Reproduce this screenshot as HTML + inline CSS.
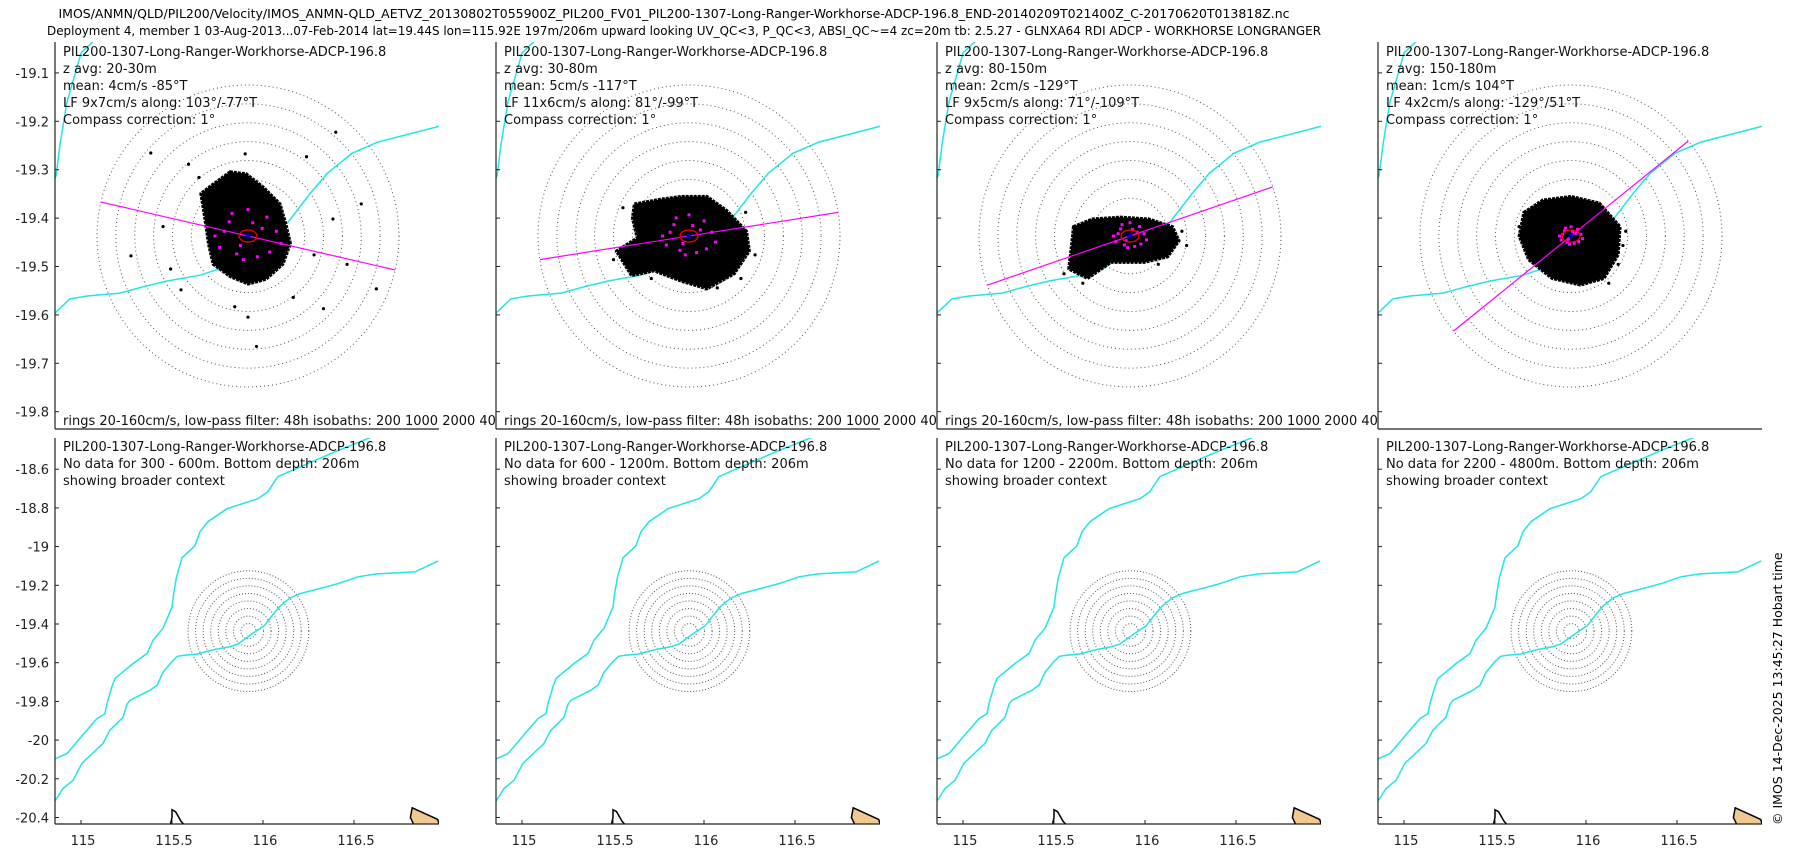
<!DOCTYPE html>
<html><head><meta charset="utf-8"><style>
html,body{margin:0;padding:0;background:#fff;}
svg{display:block;font-family:"DejaVu Sans","Liberation Sans",sans-serif;}
</style></head><body>
<svg id="fig" width="1800" height="850" viewBox="0 0 1800 850" xmlns="http://www.w3.org/2000/svg">
<text x="674" y="18" font-size="12" text-anchor="middle" textLength="1231" lengthAdjust="spacingAndGlyphs">IMOS/ANMN/QLD/PIL200/Velocity/IMOS_ANMN-QLD_AETVZ_20130802T055900Z_PIL200_FV01_PIL200-1307-Long-Ranger-Workhorse-ADCP-196.8_END-20140209T021400Z_C-20170620T013818Z.nc</text>
<text x="684" y="35" font-size="12" text-anchor="middle" textLength="1274" lengthAdjust="spacingAndGlyphs">Deployment 4, member 1 03-Aug-2013...07-Feb-2014 lat=19.44S lon=115.92E 197m/206m upward looking UV_QC&lt;3, P_QC&lt;3, ABSI_QC~=4 zc=20m tb: 2.5.27 - GLNXA64 RDI ADCP - WORKHORSE LONGRANGER</text>
<text transform="translate(1782,825) rotate(-90)" font-size="12.5">© IMOS 14-Dec-2025 13:45:27 Hobart time</text>
<g id="panels"></g>
</svg>
<script>
// ---- data ----
const depthRanges = ["20-30m","30-80m","80-150m","150-180m"];
const meanText = ["4cm/s -85°T","5cm/s -117°T","2cm/s -129°T","1cm/s 104°T"];
const lfText = ["9x7cm/s along: 103°/-77°T","11x6cm/s along: 81°/-99°T","9x5cm/s along: 71°/-109°T","4x2cm/s along: -129°/51°T"];
const lfBearing = [103, 81, 71, 51];
const noDataRanges = ["300 - 600m","600 - 1200m","1200 - 2200m","2200 - 4800m"];
const ringSpeeds = [20,40,60,80,100,120,140,160];
const siteLon = 115.92, siteLat = -19.437;
const topLatTicks = [-19.1,-19.2,-19.3,-19.4,-19.5,-19.6,-19.7,-19.8];
const botLatTicks = [-18.6,-18.8,-19,-19.2,-19.4,-19.6,-19.8,-20,-20.2,-20.4];
const botLatLabels = ["-18.6","-18.8","-19","-19.2","-19.4","-19.6","-19.8","-20","-20.2","-20.4"];
const botLonTicks = [115,115.5,116,116.5];
const botLonLabels = ["115","115.5","116","116.5"];
const isobath200 = [[116.604,-18.431],[116.385,-18.514],[116.082,-18.638],[116.027,-18.716],[115.973,-18.752],[115.802,-18.804],[115.698,-18.871],[115.654,-18.923],[115.626,-18.996],[115.555,-19.058],[115.524,-19.16],[115.509,-19.245],[115.500,-19.312],[115.451,-19.421],[115.396,-19.483],[115.363,-19.552],[115.286,-19.604],[115.187,-19.681],[115.170,-19.725],[115.143,-19.811],[115.132,-19.863],[115.088,-19.889],[115.022,-19.96],[114.923,-20.07],[114.80,-20.12]];
const isobath1000 = [[116.962,-19.074],[116.835,-19.131],[116.626,-19.141],[116.522,-19.156],[116.407,-19.193],[116.340,-19.210],[116.204,-19.243],[116.148,-19.266],[116.094,-19.307],[116.056,-19.349],[116.008,-19.408],[115.945,-19.447],[115.863,-19.503],[115.815,-19.518],[115.743,-19.530],[115.690,-19.542],[115.640,-19.555],[115.568,-19.561],[115.530,-19.567],[115.498,-19.596],[115.451,-19.649],[115.418,-19.716],[115.379,-19.742],[115.269,-19.794],[115.253,-19.815],[115.231,-19.882],[115.159,-19.949],[115.121,-20.017],[115.005,-20.120],[114.956,-20.208],[114.901,-20.25],[114.80,-20.40]];
const island1 = [[115.50,-20.36],[115.52,-20.37],[115.55,-20.42],[115.57,-20.44],[115.49,-20.44],[115.50,-20.40]];
const island2 = [[116.82,-20.35],[116.96,-20.41],[116.97,-20.44],[116.83,-20.44],[116.81,-20.40]];
const blob1 = [[-19,68],[-37,55],[-50,45],[-46,20],[-42,-8],[-37,-30],[-19,-43],[0,-51],[19,-46],[37,-30],[45,-8],[40,13],[34,34],[16,52],[-2,66]];
const blob2 = [[-58,34],[-30,39],[-8,42],[19,42],[40,27],[61,5],[64,-16],[48,-40],[19,-56],[-8,-48],[-37,-37],[-61,-42],[-77,-16],[-55,-2],[-60,19]];
const blob3 = [[-60,10],[-40,18],[-10,20],[20,18],[45,10],[52,-5],[40,-22],[15,-28],[-20,-28],[-45,-45],[-65,-35],[-62,-10]];
const blob4 = [[-50,25],[-30,38],[0,42],[30,35],[52,10],[50,-20],[35,-45],[10,-52],[-20,-45],[-45,-25],[-55,0]];
const outliers1 = [[93,110],[62,84],[-103,88],[-63,76],[-3,87],[-124,-21],[9,-117],[0,-86],[120,34],[136,-56],[80,-77],[90,18],[-82,-35],[-71,-57],[-14,-75],[48,-65],[-52,62],[70,-20],[105,-30],[-90,10]];
const outliers2 = [[-70,30],[70,-20],[55,-45],[-40,-45],[60,25],[-80,-25],[30,-55]];
const outliers3 = [[-70,-40],[60,-10],[55,5],[-50,-50],[30,-30]];
const outliers4 = [[55,-10],[50,-30],[-55,10],[40,-50],[58,5]];
const lfDots = [[-17,24],[23,-17],[-12,-19],[5,14],[-25,5],[15,8],[-8,-10],[30,5],[-30,-12],[10,-22],[-20,15],[20,20],[0,28],[-5,-25],[35,-8],[-35,0]];
const blobs = [blob1, blob2, blob3, blob4];
const outliers = [outliers1, outliers2, outliers3, outliers4];
const lfScale = [1, 0.8, 0.5, 0.35];

const NS = "http://www.w3.org/2000/svg";
const lefts = [55, 496, 937, 1378];
const W = 384, TT = 42, TB = 429, BT = 438, BB = 824;
const root = document.getElementById("panels");
function mk(tag, attrs, parent) {
  const e = document.createElementNS(NS, tag);
  for (const k in attrs) e.setAttribute(k, attrs[k]);
  (parent || root).appendChild(e);
  return e;
}
function topX(L, lon) { return L + 193 + (lon - siteLon) * 457; }
function topY(lat) { return 236 - (lat - siteLat) * 484; }
function botX(L, lon) { return L + 26 + (lon - 115) * 182; }
function botY(lat) { return 624 - (lat + 19.4) * 193.5; }
const vpx = 151 / 160;

lefts.forEach((L, i) => {
  const cpT = mk("clipPath", { id: "ct" + i });
  mk("rect", { x: L, y: TT, width: W, height: TB - TT }, cpT);
  const gT = mk("g", { "clip-path": "url(#ct" + i + ")" });
  
  
  const cx = topX(L, siteLon), cy = topY(siteLat);
  ringSpeeds.forEach(v => {
    const r = mk("circle", { cx: cx, cy: cy, r: v * vpx, fill: "none", stroke: "#555", "stroke-width": 1, "stroke-dasharray": "1 3" }, gT);
    
    
  });
  [isobath200, isobath1000].forEach((iso, k) => {
    const p = mk("polyline", { points: iso.map(q => topX(L, q[0]).toFixed(1) + "," + topY(q[1]).toFixed(1)).join(" "), fill: "none", stroke: "#22e5e5", "stroke-width": 1.5 }, gT);
    
    
  });
  const bl = mk("polygon", { points: blobs[i].map(q => (cx + q[0] * vpx).toFixed(1) + "," + (cy - q[1] * vpx).toFixed(1)).join(" "), fill: "#000", stroke: "#000", "stroke-width": 3, "stroke-linejoin": "round", "stroke-dasharray": "3 1" }, gT);
  
  
  outliers[i].forEach(q => {
    const d = mk("circle", { cx: cx + q[0] * vpx, cy: cy - q[1] * vpx, r: 1.6, fill: "#000" }, gT);
    
    
  });
  const th = lfBearing[i] * Math.PI / 180, len = 160 * vpx;
  const ln = mk("line", { x1: cx - Math.sin(th) * len, y1: cy + Math.cos(th) * len, x2: cx + Math.sin(th) * len, y2: cy - Math.cos(th) * len, stroke: "#ff00ff", "stroke-width": 1.2 }, gT);
  
  
  lfDots.forEach(q => {
    const d = mk("rect", { x: cx + q[0] * vpx * lfScale[i] - 1.5, y: cy - q[1] * vpx * lfScale[i] - 1.5, width: 3, height: 3, fill: "#ff00ff" }, gT);
    
    
  });
  const el = mk("ellipse", { cx: cx, cy: cy, rx: 9, ry: 6, fill: "none", stroke: "#ff0000", "stroke-width": 1.2 }, gT);
  
  
  const md = mk("circle", { cx: cx, cy: cy, r: 2.5, fill: "#0000cc" }, gT);
  
  
  const ay = mk("line", { x1: L, y1: TT, x2: L, y2: TB, stroke: "#222", "stroke-width": 1.2 });
  
  
  const ax = mk("line", { x1: L, y1: TB, x2: L + W, y2: TB, stroke: "#222", "stroke-width": 1.2 });
  
  
  topLatTicks.forEach(t => {
    const y = topY(t);
    const tk = mk("line", { x1: L, y1: y, x2: L + 4, y2: y, stroke: "#222", "stroke-width": 1 });
    
    
    if (i === 0) {
      const tl = mk("text", { x: L - 6, y: y + 5, "font-size": 13, "text-anchor": "end", fill: "#222" });
      tl.textContent = t.toFixed(1);
      
      
    }
  });
  const lines = ["PIL200-1307-Long-Ranger-Workhorse-ADCP-196.8", "z avg: " + depthRanges[i], "mean: " + meanText[i], "LF " + lfText[i], "Compass correction: 1°"];
  lines.forEach((s, k) => {
    const t = mk("text", { x: L + 8, y: 56 + k * 17, "font-size": 13, fill: "#111" });
    t.textContent = s;
    
    
  });
  if (i < 3) {
    const cpN = mk("clipPath", { id: "cn" + i });
    mk("rect", { x: L, y: 405, width: 441, height: 30 }, cpN);
    const t = mk("text", { x: L + 8, y: 425, "font-size": 13, fill: "#111", "clip-path": "url(#cn" + i + ")" });
    t.textContent = "rings 20-160cm/s, low-pass filter: 48h isobaths: 200 1000 2000 4000m";
    
    
  }

  const cpB = mk("clipPath", { id: "cb" + i });
  mk("rect", { x: L, y: BT, width: W, height: BB - BT }, cpB);
  const gB = mk("g", { "clip-path": "url(#cb" + i + ")" });
  
  
  const bx = botX(L, siteLon), by = botY(siteLat);
  ringSpeeds.forEach(v => {
    const r = mk("circle", { cx: bx, cy: by, r: v * vpx * 193.5 / 484, fill: "none", stroke: "#555", "stroke-width": 1, "stroke-dasharray": "1 2" }, gB);
    
    
  });
  [isobath200, isobath1000].forEach((iso, k) => {
    const p = mk("polyline", { points: iso.map(q => botX(L, q[0]).toFixed(1) + "," + botY(q[1]).toFixed(1)).join(" "), fill: "none", stroke: "#22e5e5", "stroke-width": 1.5 }, gB);
    
    
  });
  [island1, island2].forEach((isl, k) => {
    const p = mk("polygon", { points: isl.map(q => botX(L, q[0]).toFixed(1) + "," + botY(q[1]).toFixed(1)).join(" "), fill: k ? "#f0c890" : "#fff", stroke: "#000", "stroke-width": 1.5 }, gB);
    
    
  });
  const ay2 = mk("line", { x1: L, y1: BT, x2: L, y2: BB, stroke: "#222", "stroke-width": 1.2 });
  
  
  const ax2 = mk("line", { x1: L, y1: BB, x2: L + W, y2: BB, stroke: "#222", "stroke-width": 1.2 });
  
  
  botLatTicks.forEach((t, k) => {
    const y = botY(t);
    const tk = mk("line", { x1: L, y1: y, x2: L + 4, y2: y, stroke: "#222", "stroke-width": 1 });
    
    
    if (i === 0) {
      const tl = mk("text", { x: L - 6, y: y + 5, "font-size": 13, "text-anchor": "end", fill: "#222" });
      tl.textContent = botLatLabels[k];
      
      
    }
  });
  botLonTicks.forEach((t, k) => {
    const x = botX(L, t);
    const tk = mk("line", { x1: x, y1: BB, x2: x, y2: BB - 4, stroke: "#222", "stroke-width": 1 });
    
    
    const tl = mk("text", { x: x + 2, y: 845, "font-size": 13, "text-anchor": "middle", fill: "#222" });
    tl.textContent = botLonLabels[k];
    
    
  });
  ["PIL200-1307-Long-Ranger-Workhorse-ADCP-196.8", "No data for " + noDataRanges[i] + ". Bottom depth: 206m", "showing broader context"].forEach((s, k) => {
    const t = mk("text", { x: L + 8, y: 451 + k * 17, "font-size": 13, fill: "#111" });
    t.textContent = s;
    
    
  });
});
</script>
</body></html>
